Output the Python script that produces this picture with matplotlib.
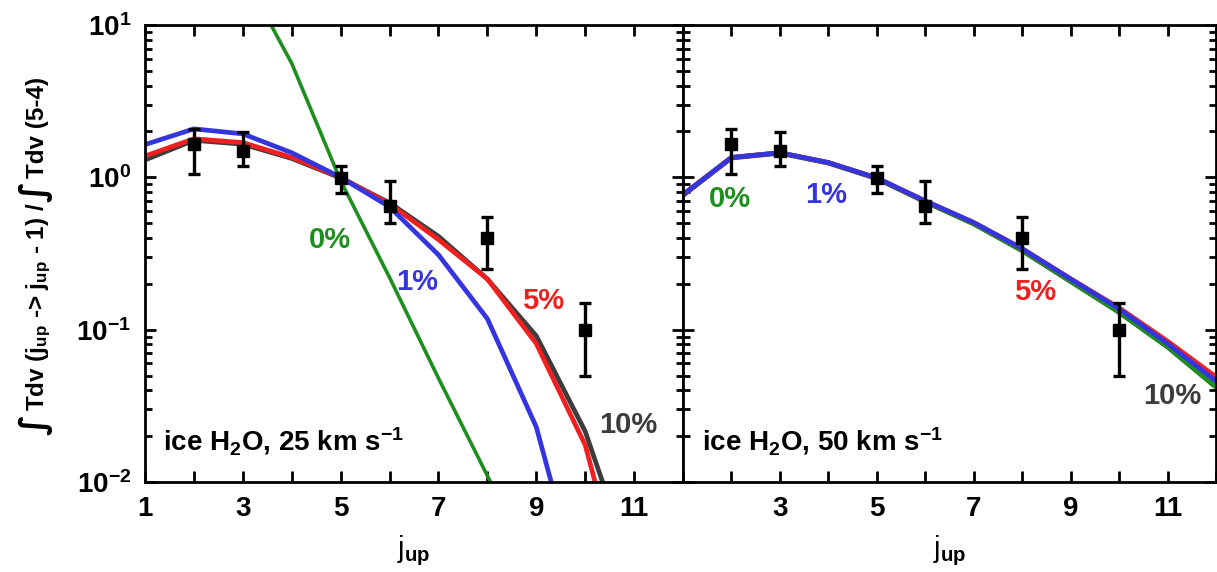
import matplotlib
matplotlib.use("Agg")
import matplotlib.pyplot as plt
from matplotlib.ticker import FixedLocator, FixedFormatter, LogLocator, NullFormatter

plt.rcParams['font.family'] = ['Liberation Sans', 'DejaVu Sans']
plt.rcParams['font.weight'] = 'bold'
plt.rcParams['mathtext.fontset'] = 'custom'
plt.rcParams['mathtext.rm'] = 'Liberation Sans:bold'
plt.rcParams['mathtext.bf'] = 'Liberation Sans:bold'
plt.rcParams['mathtext.it'] = 'Liberation Sans:bold'
plt.rcParams['mathtext.sf'] = 'Liberation Sans:bold'

# observed ratios (same in both panels)
obs_x = [2, 3, 5, 6, 8, 10]
obs_y = [1.65, 1.48, 0.99, 0.65, 0.40, 0.10]
obs_lo = [1.05, 1.18, 0.79, 0.50, 0.25, 0.05]
obs_hi = [2.09, 1.97, 1.19, 0.95, 0.55, 0.15]

# models, 25 km/s
x25 = [1, 2, 3, 4, 5, 6, 7, 8, 9, 10, 11]
ice0_25 = [None, None, 22.0, 5.6, 0.95, 0.22, 0.048, 0.011, 0.0025, None, None]
ice1_25 = [1.64, 2.08, 1.93, 1.45, 1.0, 0.64, 0.31, 0.118, 0.023, 0.0015, None]
ice5_25 = [1.38, 1.79, 1.69, 1.35, 1.0, 0.67, 0.39, 0.215, 0.081, 0.0175, 0.0011]
ice10_25 = [1.30, 1.75, 1.65, 1.33, 0.99, 0.68, 0.41, 0.215, 0.091, 0.0215, 0.0025]

# models, 50 km/s
x50 = [1, 2, 3, 4, 5, 6, 7, 8, 9, 10, 11, 12]
ice0_50 = [0.77, 1.35, 1.45, 1.25, 0.99, 0.69, 0.495, 0.33, 0.208, 0.13, 0.077, 0.042]
ice1_50 = [0.77, 1.35, 1.45, 1.25, 0.99, 0.70, 0.505, 0.34, 0.215, 0.137, 0.081, 0.046]
ice5_50 = [0.77, 1.35, 1.45, 1.25, 0.99, 0.70, 0.505, 0.34, 0.216, 0.139, 0.084, 0.049]
ice10_50 = [0.76, 1.34, 1.44, 1.24, 0.98, 0.69, 0.495, 0.33, 0.207, 0.13, 0.077, 0.042]

xticks = [1, 2, 3, 4, 5, 6, 7, 8, 9, 10, 11, 12]
xlabels_left = ['1', '', '3', '', '5', '', '7', '', '9', '', '11', '']
xlabels_right = ['', '', '3', '', '5', '', '7', '', '9', '', '11', '']
yticks = [0.01, 0.1, 1, 10]
ylabels = ['10$^{-2}$', '10$^{-1}$', '10$^{0}$', '10$^{1}$']

green = '#1e8f1e'
blue = '#3535e0'
red = '#f02020'
gray = '#3c3c3c'
FS = 20

fig = plt.figure(figsize=(12.17, 5.72), dpi=100)
ax1 = fig.add_axes([145 / 1217, 1 - 482 / 572, 538 / 1217, 457 / 572])
ax2 = fig.add_axes([683 / 1217, 1 - 482 / 572, 533 / 1217, 457 / 572])


def clean(x, y):
    pts = [(a, b) for a, b in zip(x, y) if b is not None]
    return [p[0] for p in pts], [p[1] for p in pts]


def style(ax, xlabels, show_y):
    ax.set_yscale('log')
    ax.set_xlim(1, 12)
    ax.set_ylim(0.01, 10)
    ax.xaxis.set_major_locator(FixedLocator(xticks))
    ax.xaxis.set_major_formatter(FixedFormatter(xlabels))
    ax.yaxis.set_major_locator(FixedLocator(yticks))
    ax.yaxis.set_minor_locator(LogLocator(base=10, subs=range(2, 10)))
    ax.yaxis.set_minor_formatter(NullFormatter())
    if show_y:
        ax.yaxis.set_major_formatter(FixedFormatter(ylabels))
    else:
        ax.yaxis.set_major_formatter(NullFormatter())
    ax.tick_params(axis='both', which='major', direction='in', top=True, right=True,
                   length=8, width=2, labelsize=FS, pad=10)
    ax.tick_params(axis='y', which='minor', direction='in', left=True, right=True,
                   length=5, width=2)
    ax.tick_params(axis='x', which='minor', bottom=False, top=False)
    for s in ax.spines.values():
        s.set_linewidth(2)
    ax.set_xlabel('j$_{\\rm up}$', fontsize=FS + 1, labelpad=8)


def data(ax):
    lo = [y - l for y, l in zip(obs_y, obs_lo)]
    hi = [h - y for y, h in zip(obs_y, obs_hi)]
    ax.errorbar(obs_x, obs_y, yerr=[lo, hi], fmt='s', color='black', ms=8,
                elinewidth=2.4, capsize=4, capthick=2.4, zorder=10)


# left panel
ax1.plot(*clean(x25, ice10_25), color=gray, lw=3.4)
ax1.plot(*clean(x25, ice5_25), color=red, lw=3.4)
ax1.plot(*clean(x25, ice1_25), color=blue, lw=3.4)
ax1.plot(*clean(x25, ice0_25), color=green, lw=2.6)
data(ax1)
style(ax1, xlabels_left, True)
ax1.text(4.78, 0.39, '0%', color=green, fontsize=FS + 1, ha='center', va='center')
ax1.text(6.56, 0.206, '1%', color=blue, fontsize=FS + 1, ha='center', va='center')
ax1.text(9.14, 0.155, '5%', color=red, fontsize=FS + 1, ha='center', va='center')
ax1.text(10.88, 0.0236, '10%', color=gray, fontsize=FS + 1, ha='center', va='center')
ax1.text(1.37, 0.0162, 'ice H$_2$O, 25 km s$^{-1}$', fontsize=FS, ha='left', va='baseline')

# right panel
ax2.plot(x50, ice10_50, color=gray, lw=3.4)
ax2.plot(x50, ice0_50, color=green, lw=3.4)
ax2.plot(x50, ice5_50, color=red, lw=3.4)
ax2.plot(x50, ice1_50, color=blue, lw=3.4)
data(ax2)
style(ax2, xlabels_right, False)
ax2.text(1.97, 0.72, '0%', color=green, fontsize=FS + 1, ha='center', va='center')
ax2.text(3.96, 0.77, '1%', color=blue, fontsize=FS + 1, ha='center', va='center')
ax2.text(8.27, 0.177, '5%', color=red, fontsize=FS + 1, ha='center', va='center')
ax2.text(11.1, 0.0365, '10%', color=gray, fontsize=FS + 1, ha='center', va='center')
ax2.text(1.4, 0.0162, 'ice H$_2$O, 50 km s$^{-1}$', fontsize=FS, ha='left', va='baseline')

# y label built from pieces so the integral signs can be drawn larger
INT = '\u222b'
pieces = [(INT, 25), ('Tdv (j$_{\\rm up}$ -> j$_{\\rm up}$ - 1) / ', 17.5),
          (INT, 25), ('Tdv (5-4)', 17.5)]
renderer = fig.canvas.get_renderer()


def fam_of(s):
    return ['DejaVu Sans'] if s == INT else ['Liberation Sans']


widths = []
for s, fs in pieces:
    t = fig.text(0, 0, s, fontsize=fs, family=fam_of(s))
    w = t.get_window_extent(renderer).width
    if s == INT:
        w += 3
    widths.append(w)
    t.remove()
total = sum(widths)
ycur = (572 - 256) - total / 2   # centred on pixel row 256 from the top
for (s, fs), w in zip(pieces, widths):
    fig.text(44 / 1217, ycur / 572, s, fontsize=fs, rotation=90,
             rotation_mode='anchor', ha='left', va='baseline',
             family=fam_of(s))
    ycur += w

fig.savefig('out.png', dpi=100)
